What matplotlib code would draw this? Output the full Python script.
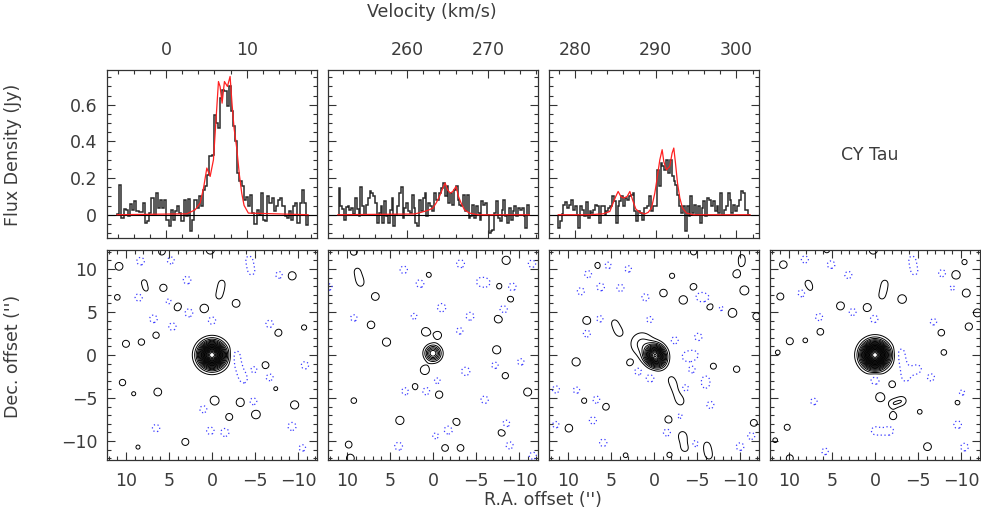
#!/usr/bin/env python3
"""CY Tau: line spectra in three velocity windows (top) and the matching maps (bottom)."""
import numpy as np
import matplotlib

matplotlib.use("Agg")
import matplotlib.pyplot as plt
from matplotlib.ticker import MultipleLocator, FuncFormatter

TXT = "#3c3c3c"
FS = 12.5

# ---------------- spectra (flux in Jy, even channels between the range ends) ----------------
SPEC1_RANGE = (-6.05, 17.6)
SPEC1_FLUX = [
    0.005, 0.164, -0.018, 0.031, 0.027, -0.005, 0.060, 0.027, 0.073, 0.018,
    0.013, 0.013, 0.064, -0.045, -0.036, 0.009, 0.091, 0.0, 0.118, 0.036,
    0.082, 0.036, 0.082, -0.027, -0.064, 0.027, -0.027, 0.018, 0.045, 0.009,
    -0.036, 0.082, -0.009, 0.085, -0.091, -0.027, 0.082, 0.036, 0.100, 0.045,
    0.136, 0.155, 0.218, 0.318, 0.327, 0.545, 0.500, 0.473, 0.636, 0.682,
    0.673, 0.591, 0.700, 0.564, 0.482, 0.400, 0.227, 0.182, 0.155, 0.082,
    0.096, 0.045, 0.109, 0.009, -0.051, 0.027, 0.0, 0.118, -0.027, -0.036,
    0.100, 0.064, 0.091, 0.018, 0.045, 0.082, 0.091, 0.045, -0.009, -0.018,
    0.018, -0.027, 0.045, 0.064, -0.045, 0.064, 0.136, 0.064, -0.055,
]
SPEC1_MODEL_V = [-6.05, 2.59, 3.62, 4.23, 4.65, 5.06, 5.47, 5.88, 6.17, 6.50, 6.70,
                 6.95, 7.24, 7.61, 7.94, 8.19, 8.43, 8.76, 9.09, 9.38, 9.67, 10.2, 17.6]
SPEC1_MODEL_F = [0.0, 0.005, 0.027, 0.064, 0.145, 0.255, 0.209, 0.300, 0.500, 0.727, 0.700,
                 0.609, 0.727, 0.700, 0.755, 0.600, 0.473, 0.364, 0.218, 0.118, 0.051, 0.009, 0.0]

SPEC2_RANGE = (251.5, 275.1)
SPEC2_FLUX = [
    0.145, 0.045, 0.031, -0.027, 0.042, 0.045, 0.027, 0.036, 0.005, 0.091,
    0.031, -0.009, 0.151, 0.045, 0.0, 0.055, 0.091, 0.127, 0.118, 0.100,
    0.064, -0.045, 0.009, 0.045, -0.045, 0.073, -0.009, -0.045, 0.027, 0.091,
    -0.064, 0.0, 0.045, 0.118, 0.149, -0.018, 0.036, 0.064, 0.018, 0.009,
    0.109, 0.036, -0.045, -0.064, 0.082, 0.018, 0.091, 0.118, -0.009, 0.064,
    0.045, 0.018, 0.118, 0.082, 0.082, 0.118, 0.145, 0.173, 0.100, 0.155,
    0.064, 0.118, 0.055, 0.136, 0.155, 0.082, 0.055, 0.045, 0.109, 0.018,
    0.109, -0.018, -0.009, 0.055, -0.018, 0.045, 0.009, -0.027, 0.073, 0.055,
    0.064, 0.0, -0.100, -0.091, -0.082, 0.009, 0.073, -0.018, -0.036, 0.027,
    0.082, -0.009, -0.045, 0.036, -0.027, 0.018, 0.045, -0.009, 0.036, 0.027,
    0.036, -0.009, -0.073, 0.055,
]
SPEC2_MODEL_V = [251.42, 260.91, 261.73, 262.56, 263.18, 263.59, 264.0, 264.41, 264.70,
                 265.03, 265.36, 265.65, 266.06, 266.35, 266.68, 267.09, 267.71, 268.75, 275.14]
SPEC2_MODEL_F = [0.0, 0.004, 0.013, 0.024, 0.036, 0.064, 0.100, 0.145, 0.173,
                 0.133, 0.118, 0.127, 0.155, 0.100, 0.064, 0.027, 0.009, 0.0, 0.0]

SPEC3_RANGE = (277.9, 301.7)
SPEC3_FLUX = [
    -0.073, -0.036, 0.005, 0.055, 0.067, 0.036, 0.055, 0.082, 0.027, 0.045,
    0.0, -0.073, 0.045, 0.027, -0.009, 0.067, -0.018, 0.018, 0.009, 0.024,
    0.055, 0.045, -0.045, 0.049, 0.045, 0.0, 0.018, 0.036, 0.045, 0.100,
    0.073, -0.045, 0.045, 0.073, 0.100, 0.045, 0.091, 0.082, 0.100, 0.109,
    0.118, 0.018, -0.036, 0.018, 0.009, -0.027, 0.036, 0.036, 0.045, 0.100,
    0.018, 0.045, 0.045, 0.245, 0.155, 0.282, 0.264, 0.245, 0.300, 0.227,
    0.300, 0.209, 0.182, 0.164, 0.109, 0.045, 0.009, 0.045, -0.091, 0.045,
    -0.009, 0.100, 0.009, 0.055, 0.0, 0.045, -0.045, 0.036, 0.073, -0.009,
    0.091, 0.082, 0.045, 0.073, 0.018, 0.045, 0.009, 0.118, 0.0, 0.027,
    0.045, 0.118, 0.082, 0.009, 0.055, 0.018, 0.045, 0.082, 0.127, 0.118,
    0.027, 0.027, 0.0,
]
SPEC3_MODEL_V = [277.94, 281.86, 283.51, 284.33, 284.74, 285.07, 285.36, 285.69, 286.06,
                 286.48, 286.81, 287.14, 287.55, 288.04, 288.66, 289.08, 289.49, 289.90,
                 290.19, 290.52, 290.81, 291.01, 291.34, 291.75, 292.04, 292.25, 292.46,
                 292.71, 293.0, 293.33, 293.82, 294.65, 301.7]
SPEC3_MODEL_F = [0.0, 0.0, 0.005, 0.018, 0.064, 0.100, 0.127, 0.100, 0.091,
                 0.100, 0.127, 0.082, 0.031, 0.013, 0.004, 0.013, 0.036, 0.118,
                 0.200, 0.300, 0.355, 0.291, 0.245, 0.264, 0.336, 0.364, 0.282,
                 0.173, 0.091, 0.036, 0.009, 0.0, 0.0]

SPEC_XLIMS = [(-7.3, 18.7), (250.2, 276.2), (276.8, 302.8)]
SPEC_YLIM = (-0.127, 0.79)

# ---------------- maps: emission components ----------------
# sources: (RA off, Dec off, peak in sigma, width in arcsec)
# blobs:   (RA off, Dec off, peak in sigma), all with width BLOB_SIGMA
BLOB_SIGMA = 0.45
MAP_LIM = 12.2
POS_LEVELS = list(range(2, 60, 2))
NEG_LEVELS = [-2]

MAP1_SOURCES = [(0.0, 0.0, 44.0, 0.92)]
MAP1_POS = [
    (10.8, 10.3, 3.3), (7.9, 8.5, 2.2), (7.7, 7.6, 2.2), (5.65, 7.8, 3.1), (4.0, 5.6, 3.5),
    (0.9, 5.4, 3.7), (-1.15, 8.4, 2.3), (-1.0, 7.6, 2.3), (-0.8, 6.8, 2.3), (-2.8, 6.0, 3.3),
    (-9.3, 9.2, 3.5), (11.0, 6.7, 2.6), (6.5, 2.3, 2.8), (10.0, 1.3, 3.0), (8.2, 1.5, 2.8),
    (-7.7, 2.6, 3.1), (-10.7, 3.2, 2.5), (-6.2, -1.2, 3.1), (10.4, -3.2, 2.8), (9.1, -4.5, 2.3),
    (6.3, -4.3, 3.3), (-0.3, -5.3, 3.9), (-3.3, -5.5, 3.6), (-2.0, -7.2, 3.0), (-5.1, -6.9, 3.8),
    (-9.6, -5.8, 3.5), (-7.4, -3.9, 2.3), (3.1, -10.1, 3.0), (8.6, -10.7, 2.3), (0.2, 12.2, 3.5),
    (5.8, 12.0, 3.0),
]
MAP1_NEG = [
    (8.3, 10.9, -3.2), (4.8, 11.0, -3.0), (-4.3, 11.2, -2.3), (-4.45, 10.4, -2.3), (-4.6, 9.6, -2.3),
    (2.9, 8.7, -3.2), (-7.8, 9.3, -2.9), (8.5, 6.7, -3.2), (5.0, 6.2, -2.6), (2.7, 4.9, -3.4),
    (6.8, 4.2, -3.2), (0.0, 4.0, -3.1), (4.6, 3.3, -3.1), (-6.7, 3.6, -3.2), (-2.8, 0.2, -2.5),
    (-2.9, -0.6, -2.5), (-3.1, -1.4, -2.5), (-3.4, -2.2, -2.5), (-3.7, -2.9, -2.5), (-4.9, -1.7, -2.7),
    (-10.8, -1.2, -3.1), (-6.7, -2.6, -3.0), (-4.8, -5.4, -3.0), (1.0, -6.3, -3.0), (6.5, -8.5, -3.1),
    (0.2, -8.8, -3.1), (-1.5, -9.0, -3.4), (-9.3, -8.3, -3.4), (-10.5, -10.8, -2.8),
]

MAP2_SOURCES = [(0.0, 0.2, 14.0, 0.6)]
MAP2_POS = [
    (8.8, 9.8, 2.3), (8.6, 9.0, 2.3), (8.4, 8.3, 2.3), (9.2, 12.0, 3.0), (6.7, 6.8, 3.3),
    (7.2, 3.5, 3.2), (5.4, 1.5, 3.5), (0.85, 2.7, 3.6), (-0.55, 2.3, 3.2), (0.95, -1.75, 3.9),
    (0.5, 9.3, 2.5), (-8.5, 11.0, 3.5), (-7.7, 8.0, 2.6), (-9.0, 6.5, 2.8), (-7.6, 4.2, 3.5),
    (-7.4, 0.6, 3.5), (-8.4, -2.4, 2.8), (-11.0, -4.3, 3.4), (2.1, -3.7, 2.9), (-0.7, -4.6, 3.2),
    (9.2, -5.3, 2.6), (3.85, -7.6, 3.5), (-2.7, -7.8, 3.2), (-8.0, -9.0, 3.2), (9.8, -10.4, 2.9),
    (9.6, -12.0, 3.3), (-1.4, -10.8, 2.9), (-3.2, -10.8, 2.9),
]
MAP2_NEG = [
    (3.4, 9.9, -3.1), (1.5, 8.3, -3.3), (-3.2, 10.6, -3.3), (-5.5, 8.5, -3.0), (-6.2, 8.4, -3.0),
    (-9.2, 7.9, -3.3), (-11.5, 10.6, -3.1), (-1.0, 5.5, -3.5), (-4.3, 4.5, -3.3), (-8.2, 5.3, -3.3),
    (9.2, 4.3, -2.8), (2.2, 4.5, -2.6), (-3.1, 2.8, -2.8), (-3.8, -1.9, -3.5), (-7.2, -1.2, -2.8),
    (-10.2, -0.8, -2.8), (3.2, -4.2, -3.1), (0.8, -4.2, -3.1), (-0.5, -3.0, -2.6), (-6.0, -5.2, -3.1),
    (-1.8, -8.7, -3.5), (-8.5, -8.0, -3.1), (-0.3, -9.4, -2.6), (4.0, -10.6, -3.3), (-8.9, -10.5, -3.0),
    (-11.6, -11.7, -3.0), (12.1, 7.9, -2.8),
]

MAP3_SOURCES = [(-0.1, 0.0, 30.0, 0.72), (-0.6, -0.8, 6.0, 0.6), (1.4, 1.3, 4.5, 1.0),
                (2.8, -0.9, 3.0, 0.4)]
MAP3_POS = [
    (6.5, 10.4, 2.9), (-10.2, 11.4, 2.2), (-10.2, 10.6, 2.2), (-9.6, 9.4, 3.2), (-2.1, 9.2, 2.5),
    (-4.6, 7.9, 3.0), (-1.1, 7.2, 3.2), (-3.4, 6.4, 3.6), (-6.5, 5.65, 3.1), (-9.1, 4.9, 3.9),
    (-10.5, 7.5, 3.9), (-11.9, 4.5, 3.0), (7.8, 4.0, 3.5), (4.6, 3.8, 2.2), (4.3, 3.1, 2.2),
    (4.0, 2.5, 2.2), (9.05, -0.8, 3.5), (-6.9, -1.3, 2.7), (-9.6, -1.65, 2.8), (8.1, -5.3, 2.6),
    (5.6, -6.0, 3.0), (-1.7, -7.5, 3.2), (9.9, -8.5, 3.3), (-3.3, -9.3, 2.8), (-3.45, -10.0, 2.2),
    (-3.6, -10.8, 2.9), (-6.1, -10.4, 2.2), (-6.25, -11.1, 2.2), (-6.4, -11.8, 2.2), (-11.6, -7.9, 3.0),
    (-1.8, -11.6, 2.5), (3.3, -11.65, 2.4), (-4.6, 12.0, 2.8), (-2.0, -2.8, 2.2), (-2.3, -3.5, 2.2),
    (-2.6, -4.2, 2.2), (-2.85, -4.9, 2.2), (-3.1, -5.5, 2.2),
]
MAP3_NEG = [
    (5.4, 10.4, -3.0), (7.65, 9.4, -3.0), (3.0, 10.0, -2.8), (6.2, 7.9, -3.2), (8.5, 7.4, -3.0),
    (3.9, 7.8, -3.0), (1.0, 6.7, -3.0), (6.3, 4.2, -2.8), (7.8, 2.5, -3.0), (0.5, 4.1, -2.8),
    (-5.3, 6.8, -3.0), (-6.0, 6.6, -3.0), (-5.15, 2.1, -3.1), (-2.4, 1.7, -3.0), (-3.7, -0.2, -2.6),
    (-4.2, -0.1, -2.4), (-4.7, 0.0, -2.6), (-4.4, -1.7, -2.8), (-6.0, -2.8, -2.5), (-6.0, -3.5, -2.5),
    (-3.6, -3.85, -3.0), (1.85, -1.9, -3.0), (0.45, -2.7, -3.2), (11.4, -4.0, -3.0), (9.0, -4.1, -2.8),
    (6.7, -5.2, -3.1), (7.1, -7.6, -3.0), (-6.55, -5.8, -3.0), (-1.5, -9.0, -3.0), (5.9, -10.2, -3.1),
    (-4.8, -10.3, -2.8), (-10.0, -10.65, -3.2), (-11.3, -9.4, -3.0), (11.4, -8.1, -2.8), (-7.8, 5.4, -2.4),
    (-3.0, -7.1, -2.4),
]

MAP4_SOURCES = [(0.0, 0.0, 48.0, 0.94)]
MAP4_POS = [
    (10.65, 10.5, 3.2), (7.8, 8.4, 2.2), (7.6, 7.7, 2.2), (11.0, 6.8, 3.0), (4.0, 5.7, 3.4),
    (0.9, 5.5, 3.5), (-1.15, 8.4, 2.3), (-1.0, 7.6, 2.3), (-0.8, 6.8, 2.3), (-3.15, 6.5, 3.7),
    (-9.4, 9.3, 3.7), (-10.6, 7.2, 3.4), (-11.9, 4.9, 3.4), (6.35, 2.7, 2.9), (9.9, 1.6, 3.0),
    (8.1, 1.7, 2.4), (11.3, 0.3, 2.4), (-7.7, 2.6, 2.9), (-10.9, 3.3, 3.1), (-8.0, 0.3, 2.6),
    (-2.0, -3.4, 2.9), (-0.6, -4.9, 3.9), (-2.0, -5.7, 2.8), (-2.6, -5.5, 2.2), (-3.2, -5.3, 2.8),
    (-2.1, -7.1, 3.1), (-5.2, -6.6, 2.4), (-9.6, -5.5, 2.5), (10.2, -8.4, 2.7), (-6.1, -10.65, 3.3),
    (9.9, -12.0, 3.0), (11.6, -9.9, 2.4), (0.2, 12.2, 3.5), (5.6, 12.2, 2.6), (-10.4, 10.8, 2.5),
]
MAP4_NEG = [
    (8.15, 11.1, -3.0), (5.1, 10.5, -3.2), (-4.3, 11.2, -2.3), (-4.45, 10.4, -2.3), (-4.6, 9.6, -2.3),
    (3.1, 9.3, -3.0), (-7.8, 9.5, -3.0), (8.5, 7.2, -3.2), (2.6, 5.0, -3.0), (6.5, 4.4, -3.0),
    (0.1, 4.2, -3.2), (-6.8, 3.85, -2.8), (-9.0, 7.8, -2.4), (-3.0, 0.4, -2.5), (-3.1, -0.4, -2.5),
    (-3.3, -1.2, -2.5), (-3.5, -2.0, -2.5), (-3.6, -2.7, -2.5), (-4.4, -1.8, -2.5), (-5.0, -1.6, -2.5),
    (-6.5, -2.6, -3.0), (0.0, -2.9, -3.9), (7.1, -5.4, -2.8), (-10.1, -4.4, -2.6), (-9.6, -8.1, -3.2),
    (-10.4, -10.7, -3.2), (5.8, -11.2, -2.8), (0.0, -8.8, -3.0), (-0.85, -8.9, -2.2), (-1.7, -8.8, -3.2),
]

SPECTRA = [
    (SPEC1_RANGE, SPEC1_FLUX, SPEC1_MODEL_V, SPEC1_MODEL_F),
    (SPEC2_RANGE, SPEC2_FLUX, SPEC2_MODEL_V, SPEC2_MODEL_F),
    (SPEC3_RANGE, SPEC3_FLUX, SPEC3_MODEL_V, SPEC3_MODEL_F),
]
MAPS = [
    (MAP1_SOURCES, MAP1_POS + MAP1_NEG),
    (MAP2_SOURCES, MAP2_POS + MAP2_NEG),
    (MAP3_SOURCES, MAP3_POS + MAP3_NEG),
    (MAP4_SOURCES, MAP4_POS + MAP4_NEG),
]

# panel frames in pixels of the 981x511 canvas
W, H = 981, 511
COL_X = [107, 328, 549, 770]
COL_W = 210
TOP_Y, TOP_H = 70, 168
BOT_Y, BOT_H = 250, 210


def frame(col, y, h):
    return [COL_X[col] / W, 1 - (y + h) / H, COL_W / W, h / H]


def style(ax):
    for s in ax.spines.values():
        s.set_color("#333333")
        s.set_linewidth(0.9)
    ax.tick_params(which="both", direction="in", top=True, bottom=True, left=True,
                   right=True, colors="#333333", labelcolor=TXT, labelsize=FS)
    ax.tick_params(which="major", length=6, width=0.8)
    ax.tick_params(which="minor", length=3, width=0.8)


def draw_spectrum(ax, i):
    (v0, v1), flux, mv, mf = SPECTRA[i]
    edges = np.linspace(v0, v1, len(flux) + 1)
    ax.axhline(0, color="black", lw=0.8)
    ax.stairs(flux, edges, color="#2a2a2a", lw=1.1)
    ax.plot(mv, mf, color="#ff2020", lw=0.9)
    ax.set_xlim(*SPEC_XLIMS[i])
    ax.set_ylim(*SPEC_YLIM)
    style(ax)
    ax.xaxis.set_major_locator(MultipleLocator(10))
    ax.xaxis.set_minor_locator(MultipleLocator(2))
    ax.yaxis.set_major_locator(MultipleLocator(0.2))
    ax.yaxis.set_minor_locator(MultipleLocator(0.05))
    ax.yaxis.set_major_formatter(FuncFormatter(lambda v, p: f"{v:g}"))
    ax.tick_params(axis="x", labeltop=True, labelbottom=False, pad=8)
    ax.tick_params(axis="y", labelleft=(i == 0), pad=7)


def draw_map(ax, i):
    sources, blobs = MAPS[i]
    g = np.linspace(-12.6, 12.6, 361)
    X, Y = np.meshgrid(g, g)
    Z = np.zeros_like(X)
    for x0, y0, amp, sig in sources:
        Z += amp * np.exp(-((X - x0) ** 2 + (Y - y0) ** 2) / (2 * sig ** 2))
    for x0, y0, amp in blobs:
        Z += amp * np.exp(-((X - x0) ** 2 + (Y - y0) ** 2) / (2 * BLOB_SIGMA ** 2))
    ax.contour(X, Y, Z, levels=POS_LEVELS, colors="black", linewidths=0.7,
               linestyles="solid")
    ax.contour(X, Y, Z, levels=NEG_LEVELS, colors="#3a3aff", linewidths=0.9,
               linestyles=[(0, (1, 2))])
    ax.set_xlim(MAP_LIM, -MAP_LIM)
    ax.set_ylim(-MAP_LIM, MAP_LIM)
    style(ax)
    for axis in (ax.xaxis, ax.yaxis):
        axis.set_major_locator(MultipleLocator(5))
        axis.set_minor_locator(MultipleLocator(1))
    ax.tick_params(axis="x", pad=9)
    ax.tick_params(axis="y", labelleft=(i == 0), pad=7)


def main():
    fig = plt.figure(figsize=(W / 100, H / 100), dpi=100)
    for i in range(3):
        draw_spectrum(fig.add_axes(frame(i, TOP_Y, TOP_H)), i)
    for i in range(4):
        draw_map(fig.add_axes(frame(i, BOT_Y, BOT_H)), i)

    fig.text(432 / W, 1 - 12 / H, "Velocity (km/s)", ha="center", va="center",
             fontsize=FS, color=TXT)
    fig.text(543 / W, 1 - 500 / H, "R.A. offset ('')", ha="center", va="center",
             fontsize=FS, color=TXT)
    fig.text(13 / W, 1 - 155 / H, "Flux Density (Jy)", rotation=90, ha="center",
             va="center", fontsize=FS, color=TXT)
    fig.text(13 / W, 1 - 356 / H, "Dec. offset ('')", rotation=90, ha="center",
             va="center", fontsize=FS, color=TXT)
    fig.text(870 / W, 1 - 155 / H, "CY Tau", ha="center", va="center",
             fontsize=FS, color=TXT)
    fig.savefig("out.png", dpi=100)
    plt.close(fig)


if __name__ == "__main__":
    main()
